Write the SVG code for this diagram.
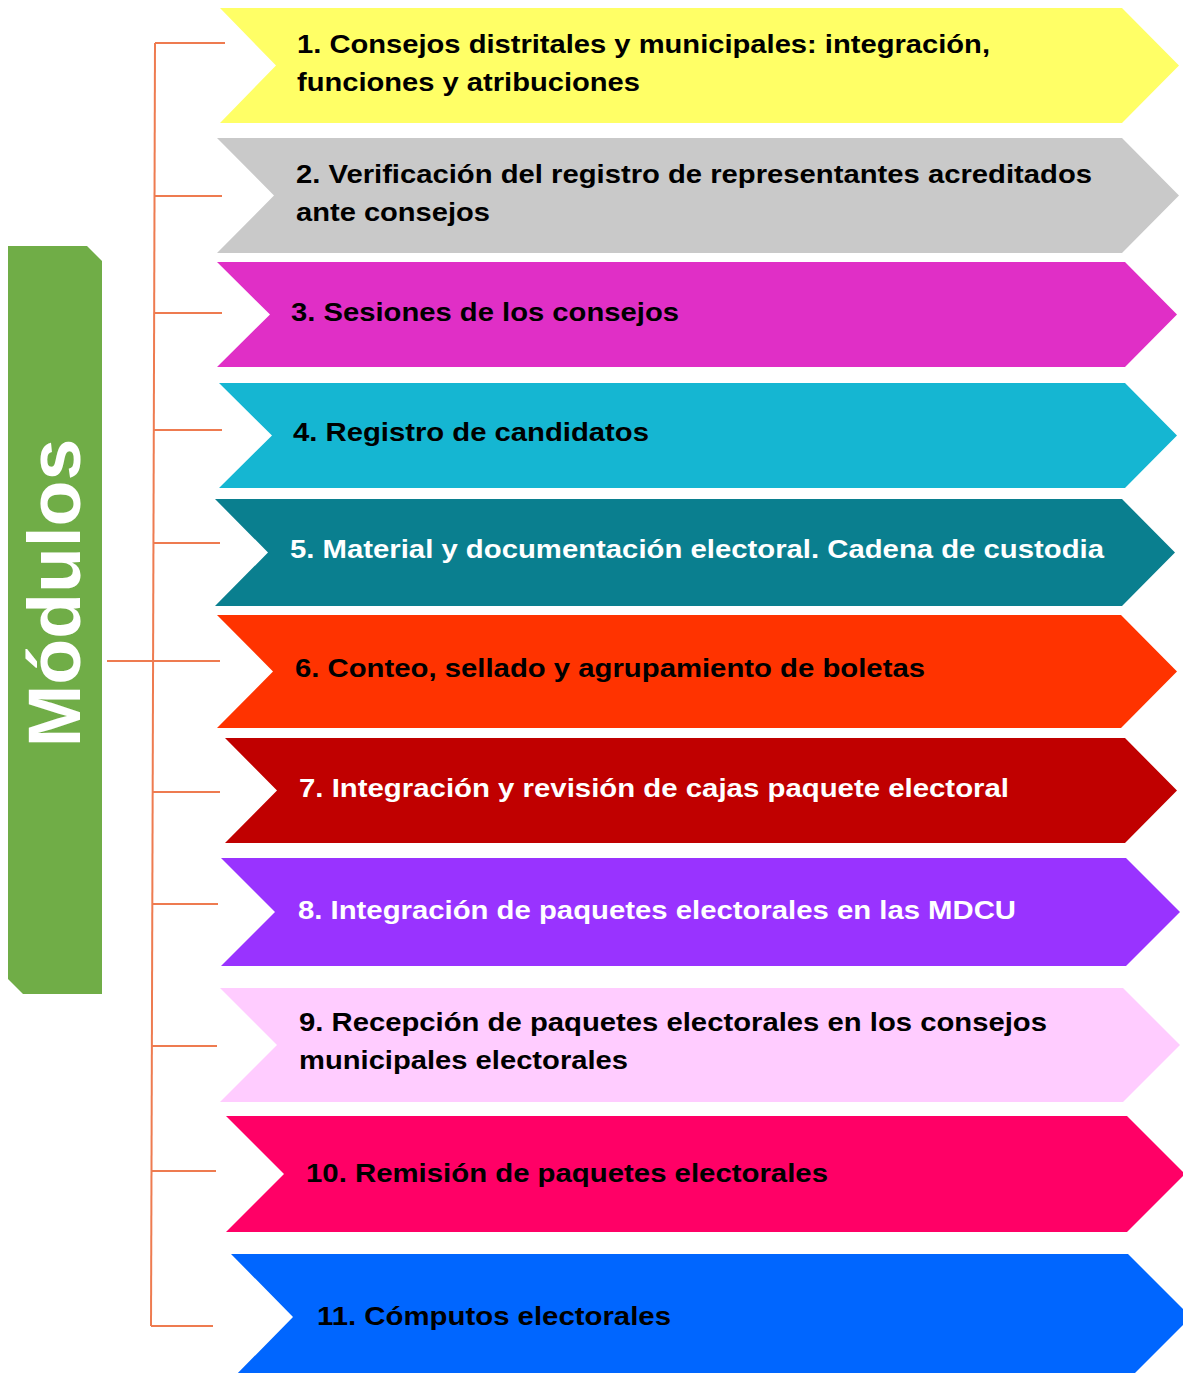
<svg xmlns="http://www.w3.org/2000/svg" width="1183" height="1373" viewBox="0 0 1183 1373">
<style>
.t{font-family:"Liberation Sans",Arial,sans-serif;font-weight:bold;font-size:26px;fill:#000}
.w{fill:#fff}
.c{stroke:#EE7B50;stroke-width:2;fill:none}
</style>
<rect width="1183" height="1373" fill="#fff"/>
<g id="connectors">
<path class="c" d="M155,43 L151,1326"/>
<path class="c" d="M155,43 H225"/>
<path class="c" d="M155,196 H222"/>
<path class="c" d="M155,313 H222"/>
<path class="c" d="M154,430 H222"/>
<path class="c" d="M154,543 H220"/>
<path class="c" d="M107,661 H220"/>
<path class="c" d="M153,792 H220"/>
<path class="c" d="M153,904 H218"/>
<path class="c" d="M152,1046 H217"/>
<path class="c" d="M152,1171 H216"/>
<path class="c" d="M151,1326 H213"/>
</g>
<g id="modulos">
<path d="M8,246 H87 L102,261 V994 H23 L8,979 Z" fill="#70AD47"/>
<text transform="translate(80,593) rotate(-90)" text-anchor="middle" font-family="Liberation Sans,Arial,sans-serif" font-weight="bold" font-size="75" fill="#fff">Módulos</text>
</g>
<g id="m1">
<path d="M220,8 H1122 L1179,65.5 L1122,123 H220 L276,65.5 Z" fill="#FFFF66"/>
<text class="t" x="297" y="53" textLength="693" lengthAdjust="spacingAndGlyphs">1. Consejos distritales y municipales: integración,</text>
<text class="t" x="297" y="91" textLength="343" lengthAdjust="spacingAndGlyphs">funciones y atribuciones</text>
</g>
<g id="m2">
<path d="M217,138 H1122 L1179,195.5 L1122,253 H217 L274,195.5 Z" fill="#C9C9C9"/>
<text class="t" x="296" y="183" textLength="796" lengthAdjust="spacingAndGlyphs">2. Verificación del registro de representantes acreditados</text>
<text class="t" x="296" y="221" textLength="194" lengthAdjust="spacingAndGlyphs">ante consejos</text>
</g>
<g id="m3">
<path d="M217,262 H1125 L1177,314.5 L1125,367 H217 L270,314.5 Z" fill="#E02FC6"/>
<text class="t" x="291" y="321" textLength="388" lengthAdjust="spacingAndGlyphs">3. Sesiones de los consejos</text>
</g>
<g id="m4">
<path d="M219,383 H1125 L1177,435.5 L1125,488 H219 L272,435.5 Z" fill="#15B6D2"/>
<text class="t" x="293" y="441" textLength="356" lengthAdjust="spacingAndGlyphs">4. Registro de candidatos</text>
</g>
<g id="m5">
<path d="M215,499 H1122 L1175,552.5 L1122,606 H215 L268,552.5 Z" fill="#0A7F8F"/>
<text class="t w" x="290" y="558" textLength="814" lengthAdjust="spacingAndGlyphs">5. Material y documentación electoral. Cadena de custodia</text>
</g>
<g id="m6">
<path d="M217,615 H1121 L1177,671.5 L1121,728 H217 L273,671.5 Z" fill="#FF3300"/>
<text class="t" x="295" y="677" textLength="630" lengthAdjust="spacingAndGlyphs">6. Conteo, sellado y agrupamiento de boletas</text>
</g>
<g id="m7">
<path d="M225,738 H1125 L1177,790.5 L1125,843 H225 L277,790.5 Z" fill="#C00000"/>
<text class="t w" x="299" y="797" textLength="710" lengthAdjust="spacingAndGlyphs">7. Integración y revisión de cajas paquete electoral</text>
</g>
<g id="m8">
<path d="M221,858 H1126 L1180,912 L1126,966 H221 L275,912 Z" fill="#9933FF"/>
<text class="t w" x="298" y="919" textLength="718" lengthAdjust="spacingAndGlyphs">8. Integración de paquetes electorales en las MDCU</text>
</g>
<g id="m9">
<path d="M220,988 H1123 L1180,1045 L1123,1102 H220 L277,1045 Z" fill="#FFCCFF"/>
<text class="t" x="299" y="1031" textLength="748" lengthAdjust="spacingAndGlyphs">9. Recepción de paquetes electorales en los consejos</text>
<text class="t" x="299" y="1069" textLength="329" lengthAdjust="spacingAndGlyphs">municipales electorales</text>
</g>
<g id="m10">
<path d="M226,1116 H1127 L1185,1174 L1127,1232 H226 L284,1174 Z" fill="#FF0066"/>
<text class="t" x="306" y="1182" textLength="522" lengthAdjust="spacingAndGlyphs">10. Remisión de paquetes electorales</text>
</g>
<g id="m11">
<path d="M231,1254 H1128 L1191,1317 L1128,1380 H231 L293,1317 Z" fill="#0066FF"/>
<text class="t" x="317" y="1325" textLength="354" lengthAdjust="spacingAndGlyphs">11. Cómputos electorales</text>
</g>
</svg>
